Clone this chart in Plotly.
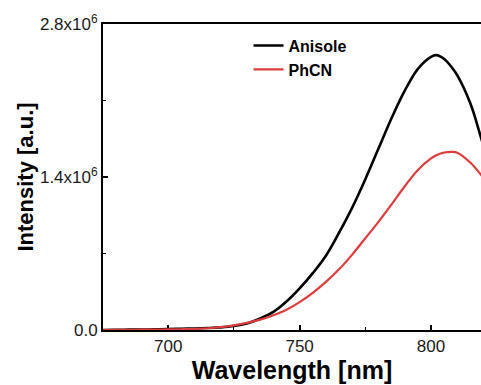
import plotly.graph_objects as go

wavelength = [675, 680, 685, 690, 695, 700, 705, 710, 715, 720, 725, 730, 735, 740, 745,
              750, 755, 760, 765, 770, 775, 780, 785, 790, 795, 800, 802, 805, 808, 810, 815, 819, 822]
anisole = [0.000, 0.002, 0.003, 0.004, 0.006, 0.008, 0.011, 0.014, 0.018, 0.024, 0.036, 0.060,
           0.105, 0.165, 0.260, 0.380, 0.520, 0.680, 0.890, 1.120, 1.380, 1.660, 1.940, 2.190,
           2.390, 2.500, 2.515, 2.480, 2.400, 2.330, 2.070, 1.760, 1.520]
phcn = [0.000, 0.001, 0.002, 0.003, 0.004, 0.005, 0.007, 0.010, 0.016, 0.026, 0.042, 0.065,
        0.095, 0.135, 0.185, 0.255, 0.340, 0.440, 0.555, 0.690, 0.840, 0.990, 1.150, 1.315,
        1.465, 1.570, 1.598, 1.624, 1.630, 1.622, 1.530, 1.420, 1.330]
series_names = ["Anisole", "PhCN"]
y_tick_vals = [0.0, 1.4e6, 2.8e6]
y_tick_text = ["0.0", "1.4x10<sup>6</sup>", "2.8x10<sup>6</sup>"]
x_tick_vals = [700, 750, 800]

FONT = "Liberation Sans, Arial, sans-serif"

fig = go.Figure()
fig.add_trace(go.Scatter(x=wavelength, y=[v * 1e6 for v in anisole], mode="lines",
                         name=series_names[0],
                         line=dict(color="#000000", width=2.6, shape="spline", smoothing=1.0)))
fig.add_trace(go.Scatter(x=wavelength, y=[v * 1e6 for v in phcn], mode="lines",
                         name=series_names[1],
                         line=dict(color="#dc3c3c", width=2.2, shape="spline", smoothing=1.0)))

fig.update_layout(
    width=481, height=385,
    margin=dict(l=103, r=0, t=24, b=55),
    paper_bgcolor="white", plot_bgcolor="white",
    font=dict(family=FONT, color="#1a1a1a"),
    showlegend=True,
    legend=dict(x=0.385, y=0.985, xanchor="left", yanchor="top",
                bgcolor="rgba(0,0,0,0)", borderwidth=0,
                font=dict(family=FONT, size=16, color="#000000", weight="bold"),
                tracegroupgap=0, itemwidth=30),
)

fig.update_xaxes(
    range=[675.2, 819.0],
    tickvals=x_tick_vals,
    ticks="inside", ticklen=5, tickwidth=1.6, tickcolor="#000000",
    minor=dict(dtick=25, tick0=675, ticks="inside", ticklen=3, tickwidth=1.4, tickcolor="#000000"),
    showline=True, linecolor="#000000", linewidth=2, mirror=True,
    showgrid=False, zeroline=False,
    tickfont=dict(family=FONT, size=17, color="#1a1a1a"),
    title=dict(text="Wavelength [nm]", font=dict(family=FONT, size=25, color="#000000", weight="bold"),
               standoff=2),
    layer="below traces",
)
fig.update_yaxes(
    range=[0, 2.8e6],
    tickvals=y_tick_vals, ticktext=y_tick_text,
    ticks="inside", ticklen=5, tickwidth=1.6, tickcolor="#000000",
    minor=dict(tickvals=[0.7e6, 2.1e6], ticks="inside", ticklen=3, tickwidth=1.4, tickcolor="#000000"),
    showline=True, linecolor="#000000", linewidth=2, mirror=False,
    showgrid=False, zeroline=False,
    tickfont=dict(family=FONT, size=17, color="#1a1a1a"),
    title=dict(text="Intensity [a.u.]", font=dict(family=FONT, size=22, color="#000000", weight="bold"),
               standoff=0),
    layer="below traces",
)

fig.write_html("out.html")
